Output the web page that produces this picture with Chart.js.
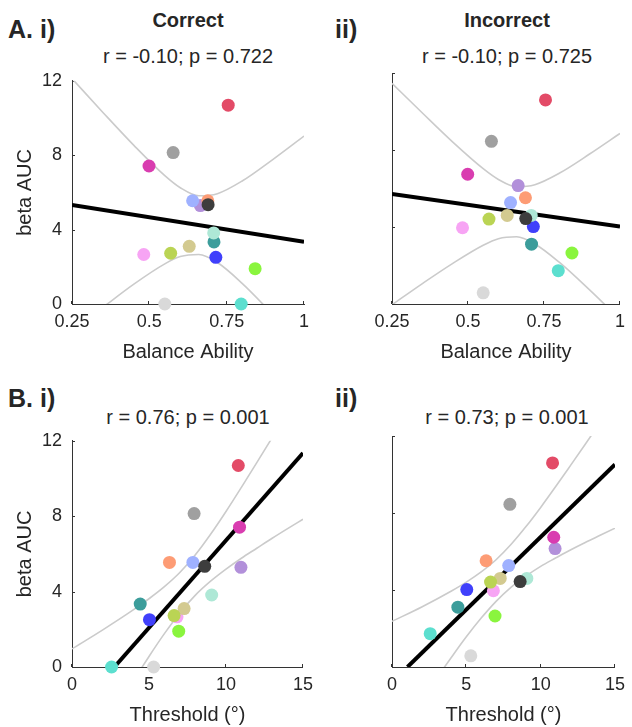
<!DOCTYPE html>
<html>
<head>
<meta charset="utf-8">
<script src="https://cdn.jsdelivr.net/npm/chart.js@4.4.1/dist/chart.umd.min.js"></script>
<style>
  body { margin: 0; background: #fff; width: 632px; height: 727px; position: relative; overflow: hidden;
         font-family: "Liberation Sans", Arial, sans-serif; color: #262626; }
  canvas { position: absolute; }
  .t { position: absolute; transform: translate(-50%, -50%); white-space: nowrap; line-height: 1; font-size: 20px; }
  .l { position: absolute; transform: translate(0, -50%); white-space: nowrap; line-height: 1; font-size: 25px; font-weight: bold; }
  .b { font-weight: bold; }
</style>
</head>
<body>
<div class="l" style="left:8px;top:29px">A. i)</div>
<div class="l" style="left:335px;top:29px">ii)</div>
<div class="t b" style="left:188px;top:20px">Correct</div>
<div class="t b" style="left:507px;top:20px">Incorrect</div>
<div class="t" style="left:188px;top:56px">r = -0.10; p = 0.722</div>
<div class="t" style="left:507px;top:56px">r = -0.10; p = 0.725</div>
<div class="l" style="left:8px;top:398px">B. i)</div>
<div class="l" style="left:335px;top:398px">ii)</div>
<div class="t" style="left:188px;top:417px">r = 0.76; p = 0.001</div>
<div class="t" style="left:507px;top:417px">r = 0.73; p = 0.001</div>

<canvas id="a1" width="320" height="310" style="left:0;top:60px"></canvas>
<canvas id="a2" width="312" height="310" style="left:320px;top:60px"></canvas>
<canvas id="b1" width="320" height="307" style="left:0;top:420px"></canvas>
<canvas id="b2" width="312" height="307" style="left:320px;top:420px"></canvas>

<script>
// one entry per participant, in drawing order
var dotColors = ['#d9d9d9', '#5cdfcf', '#8af53e', '#3c9d9b', '#f7a4f4', '#d3ca90', '#bad454', '#4040fb',
                 '#aee8d6', '#b290da', '#fd9c75', '#9fb1ff', '#3d3d3d', '#d93db0', '#a0a0a0', '#e34b67'];
var balance = [0.55, 0.797, 0.842, 0.709, 0.482, 0.629, 0.569, 0.715, 0.708, 0.665, 0.689, 0.64, 0.69, 0.499, 0.577, 0.755];
var threshold = [5.3, 2.57, 6.93, 4.43, 6.82, 7.28, 6.63, 5.03, 9.07, 10.97, 6.33, 7.85, 8.62, 10.88, 7.93, 10.8];
var aucCorrect = [0, 0, 1.90, 3.34, 2.66, 3.10, 2.73, 2.51, 3.82, 5.29, 5.55, 5.55, 5.34, 7.42, 8.14, 10.69];
var aucIncorrect = [0.58, 1.73, 2.65, 3.11, 3.96, 4.60, 4.41, 4.02, 4.60, 6.15, 5.52, 5.27, 4.44, 6.74, 8.45, 10.60];

// regression lines (end points)
var fitA1 = [[0.25, 5.33], [1, 3.34]];
var fitA2 = [[0.25, 5.71], [1, 4.03]];
var fitB1 = [[2.75, 0], [15, 11.35]];
var fitB2 = [[1.04, 0], [15, 10.52]];

// confidence bounds
var ciXA = [0.25, 0.35, 0.45, 0.55, 0.6, 0.66, 0.72, 0.8, 0.9, 1.0];
var ciUpA1 = [12.12, 10.30, 8.53, 6.90, 6.25, 5.82, 5.93, 6.61, 7.78, 9.03];
var ciLoA1 = [-1.46, -0.18, 1.07, 2.16, 2.55, 2.66, 2.23, 1.11, -0.58, -2.37];
var ciUpA2 = [11.46, 9.92, 8.41, 7.03, 6.47, 6.09, 6.20, 6.79, 7.79, 8.86];
var ciLoA2 = [-0.04, 1.06, 2.11, 3.05, 3.39, 3.49, 3.12, 2.17, 0.73, -0.80];
var ciXB = [0, 2, 4, 5, 6, 7, 8, 9, 10, 11, 12, 13, 14, 15];
var ciUpB1 = [0.96, 1.97, 3.04, 3.62, 4.26, 5.01, 5.94, 7.04, 8.25, 9.53, 10.84, 12.17, 13.52, 14.86];
var ciLoB1 = [-6.06, -3.37, -0.72, 0.56, 1.77, 2.87, 3.80, 4.55, 5.19, 5.77, 6.30, 6.83, 7.34, 7.84];
var ciUpB2 = [2.37, 3.12, 3.95, 4.41, 4.94, 5.57, 6.36, 7.28, 8.29, 9.36, 10.46, 11.57, 12.70, 13.83];
var ciLoB2 = [-3.93, -1.68, 0.51, 1.57, 2.54, 3.41, 4.14, 4.72, 5.23, 5.66, 6.08, 6.47, 6.84, 7.21];

var yTicks = [0, 4, 8, 12];
var xTicksA = [0.25, 0.5, 0.75, 1];
var xTicksB = [0, 5, 10, 15];
var axisColor = '#333333';
var textColor = '#262626';

Chart.defaults.font.family = '"Liberation Sans", Arial, sans-serif';
Chart.defaults.color = textColor;

function pts(xs, ys) {
  return xs.map(function (x, i) { return { x: x, y: ys[i] }; });
}

// MATLAB style ticks pointing into the axes
var innerTicks = {
  id: 'innerTicks',
  beforeDatasetsDraw: function (chart) {
    var ctx = chart.ctx, area = chart.chartArea, sx = chart.scales.x, sy = chart.scales.y;
    ctx.save();
    ctx.strokeStyle = axisColor;
    ctx.lineWidth = 1;
    sx.ticks.forEach(function (t) {
      var px = Math.round(sx.getPixelForValue(t.value)) - 0.5;
      ctx.beginPath(); ctx.moveTo(px, area.bottom); ctx.lineTo(px, area.bottom - 3); ctx.stroke();
    });
    sy.ticks.forEach(function (t) {
      var py = Math.round(sy.getPixelForValue(t.value)) + 0.5;
      ctx.beginPath(); ctx.moveTo(area.left, py); ctx.lineTo(area.left + 3, py); ctx.stroke();
    });
    ctx.restore();
  }
};

function plainLabel(v) { return String(v); }

function makePanel(id, opt) {
  new Chart(document.getElementById(id), {
    type: 'scatter',
    data: {
      datasets: [
        {
          data: pts(opt.x, opt.y),
          pointRadius: 6.5,
          pointBorderWidth: 0,
          pointBackgroundColor: dotColors,
          clip: false,
          order: 0
        },
        {
          data: pts(opt.fit.map(function (p) { return p[0]; }), opt.fit.map(function (p) { return p[1]; })),
          showLine: true,
          borderColor: '#000',
          borderWidth: 4,
          pointRadius: 0,
          order: 1
        },
        {
          data: pts(opt.ciX, opt.ciUp),
          showLine: true,
          borderColor: '#cbcbcb',
          borderWidth: 1.6,
          cubicInterpolationMode: 'monotone',
          pointRadius: 0,
          order: 2
        },
        {
          data: pts(opt.ciX, opt.ciLo),
          showLine: true,
          borderColor: '#cbcbcb',
          borderWidth: 1.6,
          cubicInterpolationMode: 'monotone',
          pointRadius: 0,
          order: 2
        }
      ]
    },
    options: {
      responsive: false,
      animation: false,
      devicePixelRatio: 1,
      events: [],
      layout: { padding: opt.pad },
      plugins: { legend: { display: false }, tooltip: { enabled: false } },
      scales: {
        x: {
          type: 'linear',
          min: opt.xMin,
          max: opt.xMax,
          afterBuildTicks: function (s) { s.ticks = opt.xTicks.map(function (v) { return { value: v }; }); },
          grid: { display: false, drawTicks: false },
          border: { display: true, color: axisColor, width: 1 },
          ticks: { padding: 7, font: { size: 18 }, color: textColor, maxRotation: 0, callback: plainLabel },
          title: { display: true, text: opt.xTitle, font: { size: 20 }, color: textColor, padding: { top: 0, bottom: opt.titlePad } },
          afterFit: function (s) { s.height = opt.xH; }
        },
        y: {
          type: 'linear',
          min: 0,
          max: 12,
          afterBuildTicks: function (s) { s.ticks = yTicks.map(function (v) { return { value: v }; }); },
          grid: { display: false, drawTicks: false },
          border: { display: true, color: axisColor, width: 1 },
          ticks: { display: opt.yLabels, padding: 10, font: { size: 18 }, color: textColor, callback: plainLabel },
          title: { display: opt.yLabels, text: 'beta AUC', font: { size: 20 }, color: textColor, padding: { top: 13, bottom: 0 } },
          afterFit: function (s) { s.width = 72; }
        }
      }
    },
    plugins: [innerTicks]
  });
}

makePanel('a1', { x: balance, y: aucCorrect, fit: fitA1, ciX: ciXA, ciUp: ciUpA1, ciLo: ciLoA1,
  xMin: 0.25, xMax: 1, xTicks: xTicksA, xTitle: 'Balance Ability', xH: 66, titlePad: 6,
  pad: { top: 13, right: 16, left: 0, bottom: 0 }, yLabels: true });
makePanel('a2', { x: balance, y: aucIncorrect, fit: fitA2, ciX: ciXA, ciUp: ciUpA2, ciLo: ciLoA2,
  xMin: 0.25, xMax: 1, xTicks: xTicksA, xTitle: 'Balance Ability', xH: 66, titlePad: 6,
  pad: { top: 13, right: 8, left: 0, bottom: 0 }, yLabels: false });
makePanel('b1', { x: threshold, y: aucCorrect, fit: fitB1, ciX: ciXB, ciUp: ciUpB1, ciLo: ciLoB1,
  xMin: 0, xMax: 15, xTicks: xTicksB, xTitle: 'Threshold (°)', xH: 60, titlePad: 0,
  pad: { top: 16, right: 16, left: 0, bottom: 0 }, yLabels: true });
makePanel('b2', { x: threshold, y: aucIncorrect, fit: fitB2, ciX: ciXB, ciUp: ciUpB2, ciLo: ciLoB2,
  xMin: 0, xMax: 15, xTicks: xTicksB, xTitle: 'Threshold (°)', xH: 60, titlePad: 0,
  pad: { top: 16, right: 8, left: 0, bottom: 0 }, yLabels: false });
</script>
</body>
</html>
